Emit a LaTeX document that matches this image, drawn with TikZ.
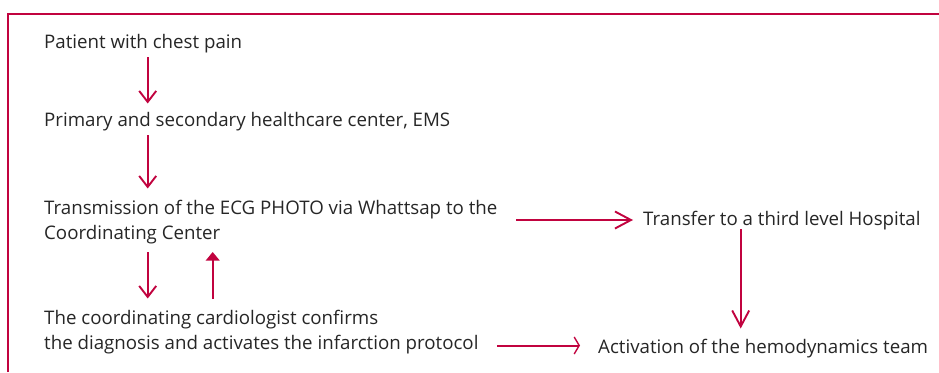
\documentclass[tikz,border=0pt]{standalone}
\usepackage{fontspec}
\setmainfont{Open Sans}
\usetikzlibrary{arrows.meta}
\definecolor{crimson}{HTML}{C1033F}
\definecolor{ink}{HTML}{262626}
\begin{document}
\begin{tikzpicture}[x=1pt,y=-1pt,
  lbl/.style={anchor=base west,inner sep=0pt,text=ink,font=\fontsize{18.7}{25}\selectfont,align=left},
  flow/.style={draw=crimson,line width=2.4pt,-{Straight Barb[length=11pt,width=17pt,line width=1.9pt]}},
  longtip/.style={-{Straight Barb[length=16pt,width=17pt,line width=1.9pt]}},
  flattip/.style={line width=2pt,-{Straight Barb[length=5pt,width=17pt,line width=1.4pt]}},
  back/.style={draw=crimson,line width=2.4pt,-{Triangle[length=8.5pt,width=13.5pt]}},
  frame/.style={draw=crimson,line width=2.6pt}]
\useasboundingbox (0,0) rectangle (939,372);
% outer frame: left and top edges
\draw[frame] (8,372) -- (8,14) -- (939,14);

% labels (two-line labels are placed by the baseline of their last line)
\node[lbl] (patient) at (44,48) {Patient with chest pain};
\node[lbl] (primary) at (44,126) {Primary and secondary healthcare center, EMS};
\node[lbl] (ecg) at (44,239) {Transmission of the ECG PHOTO via Whattsap to the\\Coordinating Center};
\node[lbl] (cardio) at (44,349) {The coordinating cardiologist confirms\\the diagnosis and activates the infarction protocol};
\node[lbl] (transfer) at (643,225.5) {Transfer to a third level Hospital};
\node[lbl] (hemo) at (598,353) {Activation of the hemodynamics team};

% arrow end points
\coordinate (p1) at (147.7,57);
\coordinate (p2) at (147.7,103.5);
\coordinate (q1) at (147.7,135);
\coordinate (q2) at (147.7,188.5);
\coordinate (d1) at (147.7,252);
\coordinate (d2) at (147.7,298.5);
\coordinate (u1) at (212.7,299);
\coordinate (u2) at (212.7,252);
\coordinate (t1) at (516,220);
\coordinate (t2) at (633,220);
\coordinate (v1) at (740.7,229);
\coordinate (v2) at (740.7,328.5);
\coordinate (h1) at (497,345.5);
\coordinate (h2) at (580,345.5);

\draw[flow] (p1) -- (p2);
\draw[flow] (q1) -- (q2);
\draw[flow] (d1) -- (d2);
\draw[back] (u1) -- (u2);
\draw[flow,longtip] (t1) -- (t2);
\draw[flow,longtip] (v1) -- (v2);
\draw[flow,flattip] (h1) -- (h2);
\end{tikzpicture}
\end{document}
